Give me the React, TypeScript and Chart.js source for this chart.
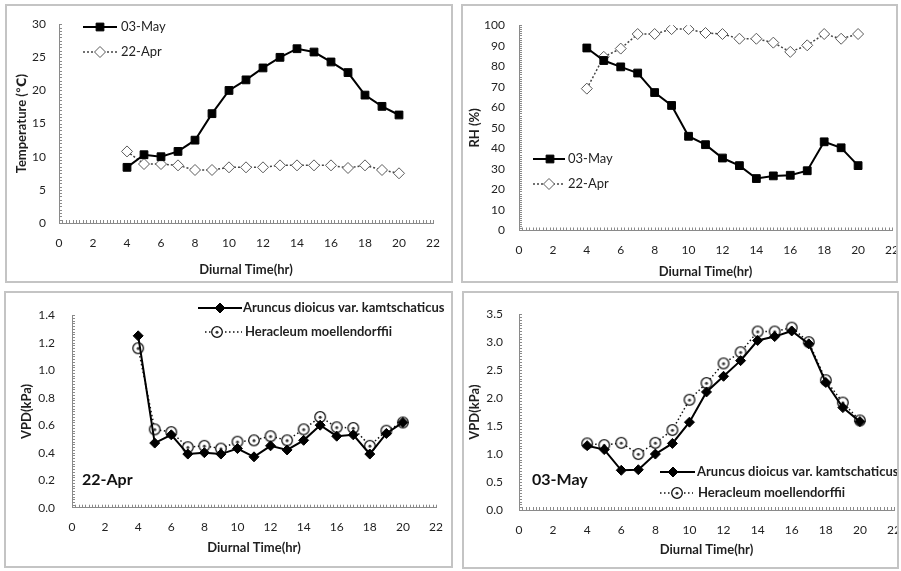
import React, { useEffect, useRef } from 'react';
import { Chart, registerables } from 'chart.js';

Chart.register(...registerables);

// ---------------- DATA ----------------
const HOURS = [4, 5, 6, 7, 8, 9, 10, 11, 12, 13, 14, 15, 16, 17, 18, 19, 20];

const TEMP_MAY03 = [8.4, 10.3, 10.0, 10.8, 12.5, 16.5, 20.0, 21.6, 23.4, 25.0, 26.3, 25.8, 24.3, 22.7, 19.3, 17.6, 16.3];
const TEMP_APR22 = [10.8, 8.9, 8.9, 8.7, 8.0, 8.0, 8.4, 8.4, 8.4, 8.7, 8.7, 8.7, 8.7, 8.3, 8.7, 8.0, 7.5];

const RH_MAY03 = [88.9, 82.8, 79.7, 76.7, 67.2, 60.9, 45.9, 41.8, 35.3, 31.6, 25.3, 26.6, 26.9, 29.1, 43.2, 40.3, 31.6];
const RH_APR22 = [69.1, 84.6, 88.6, 95.7, 95.7, 98.1, 98.1, 96.2, 95.7, 93.4, 93.4, 91.5, 87.0, 90.2, 95.7, 93.4, 95.7];

const VPD_APR22_ARUNCUS = [1.25, 0.47, 0.53, 0.39, 0.40, 0.39, 0.43, 0.37, 0.45, 0.42, 0.49, 0.60, 0.52, 0.53, 0.39, 0.54, 0.62];
const VPD_APR22_HERACLEUM = [1.16, 0.57, 0.55, 0.44, 0.45, 0.43, 0.48, 0.49, 0.52, 0.49, 0.57, 0.66, 0.585, 0.58, 0.45, 0.56, 0.62];

const VPD_MAY03_ARUNCUS = [1.15, 1.08, 0.71, 0.72, 1.00, 1.19, 1.57, 2.11, 2.39, 2.67, 3.03, 3.10, 3.20, 2.97, 2.28, 1.83, 1.58];
const VPD_MAY03_HERACLEUM = [1.19, 1.16, 1.20, 1.00, 1.20, 1.43, 1.97, 2.27, 2.62, 2.82, 3.19, 3.19, 3.26, 3.00, 2.32, 1.92, 1.60];

const LABEL_MAY03 = '03-May';
const LABEL_APR22 = '22-Apr';
const LABEL_ARUNCUS = 'Aruncus dioicus var. kamtschaticus';
const LABEL_HERACLEUM = 'Heracleum moellendorffii';
const X_TITLE = 'Diurnal Time(hr)';

// ---------------- STYLE ----------------
const FONT = 'Lato, "Open Sans", "DejaVu Sans", sans-serif';
const TEXT = '#1f1f1f';
const AXIS = '#8a8a8a';
const TICK_SIZE = 12;
const TITLE_SIZE = 13;
const EXTRA = 30;

function makeCircleDot(): HTMLCanvasElement {
  const c = document.createElement('canvas');
  c.width = 14;
  c.height = 14;
  const g = c.getContext('2d')!;
  g.beginPath();
  g.arc(7, 7, 5.3, 0, Math.PI * 2);
  g.fillStyle = '#fff';
  g.fill();
  g.lineWidth = 1.3;
  g.strokeStyle = '#111';
  g.stroke();
  g.beginPath();
  g.arc(7, 7.2, 1.5, 0, Math.PI * 2);
  g.fillStyle = '#333';
  g.fill();
  return c;
}

const zip = (ys: number[]) => HOURS.map((h, i) => ({ x: h, y: ys[i] }));

function mayStyle(label: string, values: number[]) {
  return {
    label,
    data: zip(values),
    borderColor: '#000',
    borderWidth: 2,
    pointStyle: 'rect',
    pointRadius: 5.5,
    pointBackgroundColor: '#000',
    pointBorderColor: '#000',
    pointBorderWidth: 1,
  };
}
function aprStyle(label: string, values: number[]) {
  return {
    label,
    data: zip(values),
    borderColor: '#444',
    borderWidth: 1.5,
    borderDash: [2, 2],
    pointStyle: 'rectRot',
    pointRadius: 5.5,
    pointBackgroundColor: '#fff',
    pointBorderColor: '#5a5a5a',
    pointBorderWidth: 1,
  };
}
function aruncusStyle(values: number[]) {
  return {
    label: LABEL_ARUNCUS,
    data: zip(values),
    borderColor: '#000',
    borderWidth: 2,
    pointStyle: 'rectRot',
    pointRadius: 5,
    pointBackgroundColor: '#000',
    pointBorderColor: '#000',
    pointBorderWidth: 1,
  };
}
function heracleumStyle(values: number[], img: HTMLCanvasElement) {
  return {
    label: LABEL_HERACLEUM,
    data: zip(values),
    borderColor: '#111',
    borderWidth: 1.5,
    borderDash: [1.5, 2.5],
    pointStyle: img,
    pointRadius: 5,
    pointBackgroundColor: '#fff',
    pointBorderColor: '#111',
    pointBorderWidth: 1,
  };
}

type LegendItem = { ds: number; y: number; x1: number; x2: number; mx: number; tx: number };
type PanelCfg = {
  L: number; T: number; W: number; H: number;
  cl: number; cr: number; ct: number; cb: number;
  yMax: number; yStep: number; yDec: number; yTitle: string;
  xTickCy: number; xTitleCy: number; yTickRight: number; yTitleCx: number;
  legendBold: boolean; legendSize: number;
  legend: LegendItem[];
  note?: { text: string; x: number; y: number };
  build: (img: HTMLCanvasElement) => any[];
};

const PANELS: PanelCfg[] = [
  {
    L: 5, T: 4, W: 448, H: 279,
    cl: 59, cr: 433, ct: 20, cb: 223,
    yMax: 30, yStep: 5, yDec: 0, yTitle: 'Temperature (℃)',
    xTickCy: 243, xTitleCy: 270, yTickRight: 46, yTitleCx: 22,
    legendBold: false, legendSize: 13,
    legend: [
      { ds: 0, y: 23, x1: 78, x2: 112, mx: 95, tx: 116 },
      { ds: 1, y: 48, x1: 78, x2: 112, mx: 95, tx: 116 },
    ],
    build: () => [mayStyle(LABEL_MAY03, TEMP_MAY03), aprStyle(LABEL_APR22, TEMP_APR22)],
  },
  {
    L: 461, T: 4, W: 437, H: 279,
    cl: 519, cr: 892, ct: 19.5, cb: 230.5,
    yMax: 100, yStep: 10, yDec: 0, yTitle: 'RH (%)',
    xTickCy: 250, xTitleCy: 271.5, yTickRight: 505, yTitleCx: 475,
    legendBold: false, legendSize: 13,
    legend: [
      { ds: 0, y: 155, x1: 72, x2: 104, mx: 89, tx: 107 },
      { ds: 1, y: 180, x1: 72, x2: 104, mx: 88, tx: 107 },
    ],
    build: () => [mayStyle(LABEL_MAY03, RH_MAY03), aprStyle(LABEL_APR22, RH_APR22)],
  },
  {
    L: 4, T: 291, W: 449, H: 277,
    cl: 72, cr: 436, ct: 308.3, cb: 507.7,
    yMax: 1.4, yStep: 0.2, yDec: 1, yTitle: 'VPD(kPa)',
    xTickCy: 526.7, xTitleCy: 548.3, yTickRight: 55, yTitleCx: 27,
    legendBold: true, legendSize: 13,
    legend: [
      { ds: 0, y: 17, x1: 194, x2: 238, mx: 216, tx: 239 },
      { ds: 1, y: 41, x1: 201, x2: 238, mx: 213, tx: 241 },
    ],
    note: { text: LABEL_APR22, x: 78, y: 189 },
    build: (img) => [aruncusStyle(VPD_APR22_ARUNCUS), heracleumStyle(VPD_APR22_HERACLEUM, img)],
  },
  {
    L: 462, T: 291, W: 437, H: 278,
    cl: 519, cr: 894, ct: 301.7, cb: 510,
    yMax: 3.5, yStep: 0.5, yDec: 1, yTitle: 'VPD(kPa)',
    xTickCy: 530, xTitleCy: 550, yTickRight: 503, yTitleCx: 475,
    legendBold: true, legendSize: 13,
    legend: [
      { ds: 0, y: 181, x1: 198, x2: 233, mx: 211, tx: 235 },
      { ds: 1, y: 202, x1: 198, x2: 231, mx: 215, tx: 236 },
    ],
    note: { text: LABEL_MAY03, x: 70, y: 189 },
    build: (img) => [aruncusStyle(VPD_MAY03_ARUNCUS), heracleumStyle(VPD_MAY03_HERACLEUM, img)],
  },
];

function drawMarker(ctx: CanvasRenderingContext2D, ds: any, x: number, y: number) {
  const st = ds.pointStyle;
  const r = ds.pointRadius;
  ctx.save();
  ctx.setLineDash([]);
  if (st && typeof st === 'object') {
    ctx.drawImage(st, x - st.width / 2, y - st.height / 2);
  } else {
    ctx.beginPath();
    if (st === 'rect') {
      const s = Math.SQRT1_2 * r;
      ctx.rect(x - s, y - s, 2 * s, 2 * s);
    } else if (st === 'rectRot') {
      ctx.moveTo(x - r, y);
      ctx.lineTo(x, y - r);
      ctx.lineTo(x + r, y);
      ctx.lineTo(x, y + r);
      ctx.closePath();
    } else {
      ctx.arc(x, y, r, 0, Math.PI * 2);
    }
    ctx.fillStyle = ds.pointBackgroundColor;
    ctx.fill();
    ctx.lineWidth = ds.pointBorderWidth;
    ctx.strokeStyle = ds.pointBorderColor;
    ctx.stroke();
  }
  ctx.restore();
}

function Panel({ cfg }: { cfg: PanelCfg }) {
  const ref = useRef<HTMLCanvasElement | null>(null);
  useEffect(() => {
    if (!ref.current) return;
    const img = makeCircleDot();
    const tickLH = TICK_SIZE * 1.2;
    const titleLH = TITLE_SIZE * 1.2;
    const minor = {
      id: 'minorTicks',
      beforeDatasetsDraw(chart: any) {
        const { ctx, chartArea } = chart;
        const xs = chart.scales.x;
        const ys = chart.scales.y;
        ctx.save();
        ctx.strokeStyle = AXIS;
        ctx.lineWidth = 1;
        ctx.beginPath();
        const xStep = 0.2;
        const nx = Math.round((xs.max - xs.min) / xStep);
        for (let i = 1; i <= nx; i++) {
          const px = Math.round(xs.getPixelForValue(xs.min + i * xStep)) + 0.5;
          ctx.moveTo(px, chartArea.bottom);
          ctx.lineTo(px, chartArea.bottom - 3);
        }
        const yStep = cfg.yStep / 10;
        const ny = Math.round((ys.max - ys.min) / yStep);
        for (let i = 1; i <= ny; i++) {
          const py = Math.round(ys.getPixelForValue(ys.min + i * yStep)) + 0.5;
          ctx.moveTo(chartArea.left, py);
          ctx.lineTo(chartArea.left + 3, py);
        }
        ctx.stroke();
        ctx.restore();
      },
    };
    const legend = {
      id: 'customLegend',
      afterDraw(chart: any) {
        const { ctx } = chart;
        ctx.save();
        for (const it of cfg.legend) {
          const ds = chart.data.datasets[it.ds];
          ctx.beginPath();
          ctx.setLineDash(ds.borderDash || []);
          ctx.strokeStyle = ds.borderColor;
          ctx.lineWidth = ds.borderWidth;
          ctx.moveTo(it.x1, it.y);
          ctx.lineTo(it.x2, it.y);
          ctx.stroke();
          drawMarker(ctx, ds, it.mx, it.y);
          ctx.setLineDash([]);
          ctx.fillStyle = TEXT;
          ctx.font = `${cfg.legendBold ? 'bold ' : ''}${cfg.legendSize}px ${FONT}`;
          ctx.textAlign = 'left';
          ctx.textBaseline = 'middle';
          ctx.fillText(ds.label, it.tx, it.y);
        }
        if (cfg.note) {
          ctx.font = `bold 16px ${FONT}`;
          ctx.fillStyle = '#111';
          ctx.textAlign = 'left';
          ctx.textBaseline = 'middle';
          ctx.fillText(cfg.note.text, cfg.note.x, cfg.note.y);
        }
        ctx.restore();
      },
    };
    const chart = new Chart(ref.current, {
      type: 'line',
      data: { datasets: cfg.build(img) },
      options: {
        responsive: false,
        animation: false,
        events: [],
        layout: {
          padding: {
            left: 0,
            top: cfg.ct - cfg.T,
            right: cfg.L + cfg.W - cfg.cr + EXTRA,
            bottom: 0,
          },
        },
        scales: {
          x: {
            type: 'linear',
            min: 0,
            max: 22,
            ticks: {
              stepSize: 2,
              padding: cfg.xTickCy - cfg.cb - tickLH / 2,
              color: TEXT,
              font: { family: FONT, size: TICK_SIZE },
              maxRotation: 0,
              autoSkip: false,
            },
            grid: { display: false, drawTicks: false },
            border: { display: true, color: AXIS, width: 1 },
            title: {
              display: true,
              text: X_TITLE,
              color: TEXT,
              font: { family: FONT, size: TITLE_SIZE, weight: 'bold' },
              padding: { top: 0, bottom: cfg.T + cfg.H - cfg.xTitleCy - titleLH / 2 },
            },
            afterFit: (s: any) => {
              s.height = cfg.T + cfg.H - cfg.cb;
            },
          },
          y: {
            type: 'linear',
            min: 0,
            max: cfg.yMax,
            ticks: {
              stepSize: cfg.yStep,
              padding: cfg.cl - cfg.yTickRight,
              color: TEXT,
              font: { family: FONT, size: TICK_SIZE },
              callback: (v: any) => Number(v).toFixed(cfg.yDec),
            },
            grid: { display: false, drawTicks: false },
            border: { display: true, color: AXIS, width: 1 },
            title: {
              display: true,
              text: cfg.yTitle,
              color: TEXT,
              font: { family: FONT, size: TITLE_SIZE, weight: 'bold' },
              padding: { top: cfg.yTitleCx - cfg.L - titleLH / 2, bottom: 0 },
            },
            afterFit: (s: any) => {
              s.width = cfg.cl - cfg.L;
            },
          },
        },
        plugins: {
          legend: { display: false },
          tooltip: { enabled: false },
        },
      } as any,
      plugins: [minor, legend],
    });
    return () => chart.destroy();
  }, [cfg]);

  return (
    <div
      style={{
        position: 'absolute',
        left: cfg.L,
        top: cfg.T,
        width: cfg.W,
        height: cfg.H,
        overflow: 'hidden',
        background: '#fff',
      }}
    >
      <canvas
        ref={ref}
        width={cfg.W + EXTRA}
        height={cfg.H}
        style={{ position: 'absolute', left: 0, top: 0, width: cfg.W + EXTRA, height: cfg.H }}
      />
      <div
        style={{
          position: 'absolute',
          left: 0,
          top: 0,
          width: cfg.W,
          height: cfg.H,
          boxSizing: 'border-box',
          border: '2px solid #c4c4c4',
          pointerEvents: 'none',
        }}
      />
    </div>
  );
}

export default function App() {
  return (
    <div
      style={{
        position: 'fixed',
        left: 0,
        top: 0,
        width: 901,
        height: 571,
        background: '#fff',
        overflow: 'hidden',
      }}
    >
      {PANELS.map((p, i) => (
        <Panel key={i} cfg={p} />
      ))}
    </div>
  );
}
